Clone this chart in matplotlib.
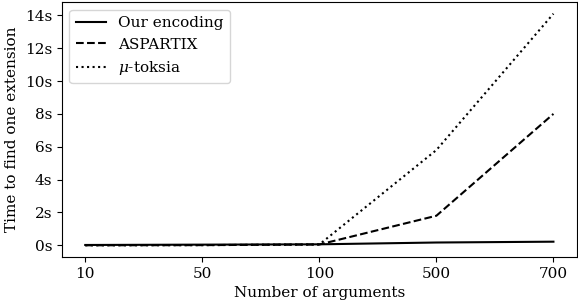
import matplotlib
matplotlib.use("Agg")
import matplotlib.pyplot as plt

plt.rcParams['font.family'] = 'DejaVu Serif'
plt.rcParams['font.size'] = 11
plt.rcParams['mathtext.fontset'] = 'dejavuserif'

# Data
n_args = ['10', '50', '100', '500', '700']
our_encoding = [0.02, 0.04, 0.06, 0.17, 0.22]
aspartix = [0.0, 0.01, 0.05, 1.8, 8.0]
mu_toksia = [0.0, 0.01, 0.05, 5.8, 14.1]

fig, ax = plt.subplots(figsize=(5.78, 3.04), dpi=100)
fig.subplots_adjust(left=0.107, right=0.998, top=0.993, bottom=0.155)

x = range(len(n_args))
ax.plot(x, our_encoding, color='black', linestyle='-', label='Our encoding')
ax.plot(x, aspartix, color='black', linestyle='--', label='ASPARTIX')
ax.plot(x, mu_toksia, color='black', linestyle=':', label=r'$\mu$-toksia')

ax.set_xticks(list(x))
ax.set_xticklabels(n_args)
ax.set_yticks(range(0, 15, 2))
ax.set_yticklabels([f'{v}s' for v in range(0, 15, 2)])
ax.set_xlabel('Number of arguments')
ax.set_ylabel('Time to find one extension')
ax.legend(loc='upper left')

fig.savefig('out.png', dpi=100)
